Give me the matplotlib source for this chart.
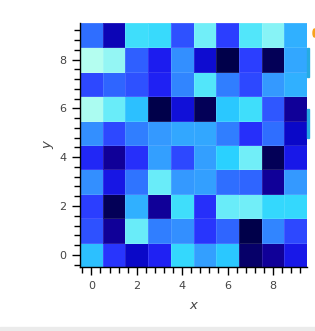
# heatmap, kbc-like blues

import matplotlib
matplotlib.use("Agg")
import matplotlib.pyplot as plt
import numpy as np
from matplotlib.colors import LinearSegmentedColormap
from matplotlib.ticker import MultipleLocator
from matplotlib.patches import Rectangle, Ellipse

# grid values, rows listed from y=9 (top) down to y=0
xs = list(range(10))
ys = list(range(10))
rows_top_down = [
	[0.55, 0.16, 0.88, 0.87, 0.46, 0.94, 0.40, 0.91, 0.96, 0.76],
	[1.00, 0.97, 0.50, 0.28, 0.65, 0.20, 0.00, 0.40, 0.02, 0.73],
	[0.43, 0.52, 0.46, 0.30, 0.62, 0.91, 0.60, 0.43, 0.68, 0.76],
	[0.99, 0.93, 0.80, 0.00, 0.22, 0.02, 0.82, 0.88, 0.48, 0.12],
	[0.65, 0.43, 0.60, 0.68, 0.73, 0.73, 0.60, 0.35, 0.55, 0.18],
	[0.32, 0.12, 0.35, 0.70, 0.43, 0.70, 0.84, 0.94, 0.02, 0.26],
	[0.65, 0.25, 0.57, 0.93, 0.68, 0.70, 0.55, 0.52, 0.12, 0.68],
	[0.40, 0.02, 0.76, 0.12, 0.88, 0.35, 0.93, 0.94, 0.86, 0.86],
	[0.46, 0.12, 0.93, 0.60, 0.65, 0.37, 0.52, 0.00, 0.62, 0.43],
	[0.80, 0.37, 0.18, 0.30, 0.86, 0.70, 0.82, 0.05, 0.12, 0.26],
]
z = np.array(rows_top_down[::-1])

# approximate black-blue-cyan colour map
kbc = LinearSegmentedColormap.from_list("kbc_like", [
	(0.00, "#00004a"),
	(0.12, "#10009a"),
	(0.18, "#0a08c8"),
	(0.28, "#1c1cf0"),
	(0.38, "#2a38ff"),
	(0.48, "#2f58ff"),
	(0.58, "#2f78ff"),
	(0.68, "#3498ff"),
	(0.76, "#30b0ff"),
	(0.84, "#28d0ff"),
	(0.90, "#48e4fa"),
	(0.95, "#7af0f8"),
	(1.00, "#b4fef0"),
])

W, H = 315, 331
fig = plt.figure(figsize=(W / 100, H / 100), dpi=100)
ax = fig.add_axes([80 / W, 1 - 267 / H, 227 / W, 244 / H])

xe = np.arange(len(xs) + 1) - 0.5
ye = np.arange(len(ys) + 1) - 0.5
ax.pcolormesh(xe, ye, z, cmap=kbc, vmin=0, vmax=1,
	edgecolors=(1, 1, 1, 0.12), linewidth=0.6)
ax.set_xlim(-0.5, 9.5)
ax.set_ylim(-0.5, 9.5)

for s in ["top", "right"]:
	ax.spines[s].set_visible(False)
for s in ["left", "bottom"]:
	ax.spines[s].set_linewidth(1.0)

ax.xaxis.set_major_locator(MultipleLocator(2))
ax.yaxis.set_major_locator(MultipleLocator(2))
ax.xaxis.set_minor_locator(MultipleLocator(0.4))
ax.yaxis.set_minor_locator(MultipleLocator(0.4))
ax.tick_params(which="major", direction="out", length=6, width=1,
	labelsize=8, labelcolor="#444444", pad=4)
ax.tick_params(which="minor", direction="out", length=4, width=1)

ax.set_xlabel("x", fontsize=9.5, style="italic", color="#444444", labelpad=6)
ax.set_ylabel("y", fontsize=9.5, style="italic", color="#444444", labelpad=3)

# bits of the toolbar peeking in at the right edge, and the bottom shadow
fig.patches.append(Rectangle((307 / W, 1 - 77 / H), 2 / W, 29 / H,
	transform=fig.transFigure, color="#26aae1"))
fig.patches.append(Rectangle((307 / W, 1 - 138 / H), 2 / W, 29 / H,
	transform=fig.transFigure, color="#26aae1"))
fig.patches.append(Ellipse((314.5 / W, 1 - 33 / H), 3 / W, 8 / H,
	transform=fig.transFigure, color="#f7a21b"))
fig.patches.append(Rectangle((0, 0), 1, 4 / H,
	transform=fig.transFigure, color="#ebebeb"))

fig.savefig("out.png", dpi=100)
